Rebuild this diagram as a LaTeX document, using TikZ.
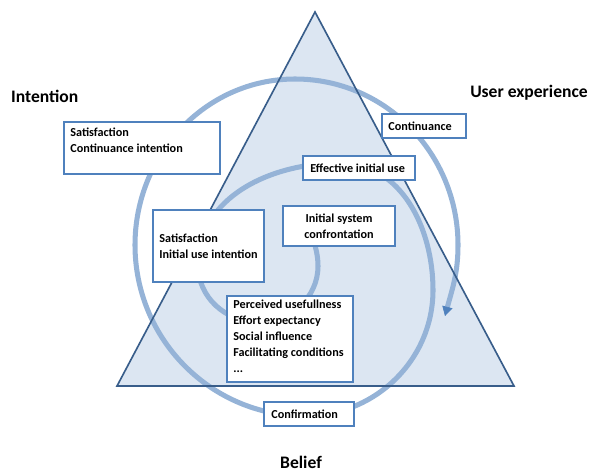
\documentclass[tikz,border=0pt]{standalone}
\usepackage{fontspec}
\setmainfont{Carlito}
\usepackage{tikz}
\usetikzlibrary{fit,arrows.meta}
\definecolor{TriFill}{RGB}{220,230,242}
\definecolor{TriEdge}{RGB}{56,93,138}
\definecolor{BoxEdge}{RGB}{79,129,189}
\definecolor{SpiralBlue}{RGB}{149,179,215}

\begin{document}
\begin{tikzpicture}[x=0.03cm, y=-0.03cm,
    box/.style={draw=BoxEdge, line width=1.5pt, fill=white, inner sep=0pt},
    boxtext/.style={inner sep=0pt, align=left, font=\fontsize{10.4}{13.5}\selectfont\bfseries},
    corner/.style={inner sep=0pt, font=\fontsize{15}{18}\selectfont\bfseries}]
    \useasboundingbox (0,0) rectangle (591,472);

    % Triangle
    \coordinate (apex) at (315,12);
    \coordinate (left) at (117,386);
    \coordinate (right) at (514,386);
    \fill[TriFill] (apex) -- (left) -- (right) -- cycle;

    % Spiral, turning outwards clockwise
    \coordinate (s0) at (312,232);
    \coordinate (e0) at (318,266);
    \coordinate (b0) at (258,322);
    \coordinate (w0) at (198,265);
    \coordinate (n0) at (340,163);
    \coordinate (e1) at (433,290);
    \coordinate (b1) at (305,416);
    \coordinate (w1) at (135,245);
    \coordinate (n1) at (295,79);
    \coordinate (e2) at (458,245);
    \coordinate (s1) at (445,316);
    \draw[SpiralBlue, line width=4.3pt,
          -{Triangle[length=8pt, width=9pt, line width=0.6pt, color=BoxEdge]}]
      (s0) to[out=-80, in=90] (e0)
           to[out=-90, in=0] (b0) to[out=180, in=-90] (w0)
           to[out=90, in=180] (n0) to[out=0, in=90] (e1)
           to[out=-90, in=0] (b1) to[out=180, in=-90] (w1)
           to[out=90, in=180] (n1) to[out=0, in=90] (e2)
           to[out=-90, in=75] (s1);

    \draw[TriEdge, line width=1.4pt] (apex) -- (left) -- (right) -- cycle;

    % Corner labels
    \node[corner, anchor=base west] (intention) at (11,102) {Intention};
    \node[corner, anchor=base east] (userexp) at (588,97) {User experience};
    \node[corner, anchor=base] (belief) at (301,468) {Belief};

    % Boxes
    \node[box, fit={(64,122) (220,174)}] (satcont) {};
    \node[box, fit={(382,114) (466,138)}] (contin) {};
    \node[box, fit={(303,156) (415,180)}] (effuse) {};
    \node[box, fit={(283,206) (395,246)}] (initconf) {};
    \node[box, fit={(153,210) (264,282)}] (satinit) {};
    \node[box, fit={(227,296) (353,382)}] (percv) {};
    \node[box, fit={(264,402) (354,426)}] (confirm) {};

    % Box texts
    \node[boxtext, anchor=north west] (satcont-t) at ([shift={(7,7)}]satcont.north west)
      {Satisfaction\\Continuance intention};
    \node[boxtext, anchor=west] (contin-t) at ([shift={(7,0)}]contin.west) {Continuance};
    \node[boxtext, anchor=west] (effuse-t) at ([shift={(8,0)}]effuse.west) {Effective initial use};
    \node[boxtext, align=center] (initconf-t) at (initconf) {Initial system\\confrontation};
    \node[boxtext, anchor=west] (satinit-t) at ([shift={(7,0)}]satinit.west)
      {Satisfaction\\Initial use intention};
    \node[boxtext, anchor=north west] (percv-t) at ([shift={(7,5)}]percv.north west)
      {Perceived usefullness\\Effort expectancy\\Social influence\\Facilitating conditions\\...};
    \node[boxtext, anchor=west] (confirm-t) at ([shift={(8,0)}]confirm.west) {Confirmation};
\end{tikzpicture}
\end{document}
